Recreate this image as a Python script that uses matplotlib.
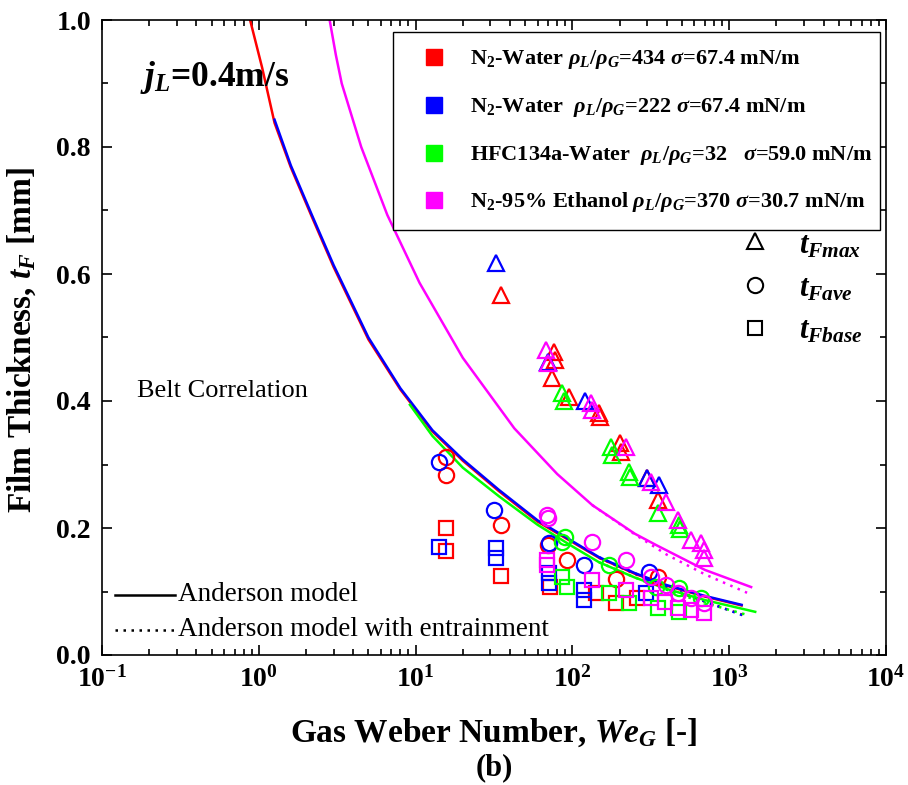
import matplotlib
matplotlib.use('Agg')
import matplotlib.pyplot as plt
from matplotlib.patches import Rectangle
import numpy as np

plt.rcParams['font.family'] = ['Liberation Serif', 'DejaVu Serif']
plt.rcParams['mathtext.fontset'] = 'custom'
plt.rcParams['mathtext.rm'] = 'Liberation Serif:bold'
plt.rcParams['mathtext.it'] = 'Liberation Serif:bold:italic'
plt.rcParams['mathtext.bf'] = 'Liberation Serif:bold'

# Fluid colours / legend labels
colors = ['#ff0000', '#0000ff', '#00ff00', '#ff00ff']
labels = [r'N$_2$-Water $\rho_L/\rho_G$=434 $\sigma$=67.4 mN/m',
          r'N$_2$-Water  $\rho_L/\rho_G$=222 $\sigma$=67.4 mN/m',
          r'HFC134a-Water  $\rho_L/\rho_G$=32   $\sigma$=59.0 mN/m',
          r'N$_2$-95% Ethanol $\rho_L/\rho_G$=370 $\sigma$=30.7 mN/m']

# ---- measured data (WeG, tF [mm]) ----
# N2-Water 434
red_max_we = [35.3, 76.7, 78, 74.6, 95, 148, 150, 200, 205, 300, 350]
red_max_t = [0.567, 0.477, 0.465, 0.436, 0.406, 0.381, 0.375, 0.334, 0.32, 0.279, 0.244]
red_ave_we = [15.7, 15.6, 35.3, 70, 93, 190, 350]
red_ave_t = [0.312, 0.283, 0.205, 0.173, 0.15, 0.12, 0.123]
red_base_we = [15.7, 15.7, 35.3, 72, 142, 190, 260]
red_base_t = [0.2, 0.164, 0.124, 0.107, 0.098, 0.082, 0.09]
# N2-Water 222
blue_max_we = [32.4, 70, 121, 300, 358]
blue_max_t = [0.617, 0.461, 0.40, 0.279, 0.268]
blue_ave_we = [14, 31.8, 71, 119, 309]
blue_ave_t = [0.304, 0.228, 0.176, 0.142, 0.131]
blue_base_we = [14, 32.4, 32.4, 71, 71, 119, 119, 295]
blue_base_t = [0.17, 0.168, 0.153, 0.129, 0.113, 0.102, 0.087, 0.098]
# HFC134a-Water
green_max_we = [86, 88, 175, 178, 231, 233, 350, 478, 485]
green_max_t = [0.413, 0.40, 0.328, 0.315, 0.288, 0.28, 0.224, 0.205, 0.198]
green_ave_we = [86, 90, 172, 343, 478, 664]
green_ave_t = [0.178, 0.186, 0.142, 0.107, 0.105, 0.09]
green_base_we = [86, 92, 172, 231, 350, 478]
green_base_t = [0.123, 0.107, 0.098, 0.082, 0.074, 0.068]
# N2-95% Ethanol
mag_max_we = [68, 69.6, 132, 134, 221, 318, 398, 473, 573, 664, 692, 692]
mag_max_t = [0.48, 0.46, 0.397, 0.386, 0.328, 0.272, 0.241, 0.213, 0.181, 0.176, 0.165, 0.153]
mag_ave_we = [69, 70, 134, 221, 318, 398, 473, 573, 692]
mag_ave_t = [0.22, 0.215, 0.178, 0.15, 0.123, 0.11, 0.098, 0.09, 0.082]
mag_base_we = [69, 69, 134, 221, 318, 390, 473, 573, 692]
mag_base_t = [0.15, 0.142, 0.118, 0.102, 0.09, 0.083, 0.074, 0.071, 0.066]

# ---- Anderson model curves ----
red_fit_we = [0.86, 0.88, 1.05, 1.26, 1.6, 2.18, 3, 5, 8, 12.8, 20, 34, 60, 148, 250, 400, 700, 1200]
red_fit_t = [1.03, 1.0, 0.925, 0.838, 0.768, 0.69, 0.611, 0.497, 0.418, 0.352, 0.306, 0.258,
             0.21, 0.153, 0.128, 0.109, 0.092, 0.078]
blue_fit_we = [1.26, 1.6, 2.18, 3, 5, 8, 12.8, 20, 34, 60, 148, 250, 400, 700, 1200]
blue_fit_t = [0.843, 0.771, 0.693, 0.614, 0.50, 0.42, 0.354, 0.308, 0.26, 0.212, 0.154,
              0.129, 0.11, 0.093, 0.079]
green_fit_we = [9.2, 12.8, 20, 34, 60, 100, 148, 250, 400, 700, 1465]
green_fit_t = [0.394, 0.345, 0.295, 0.25, 0.205, 0.171, 0.146, 0.122, 0.104, 0.0865, 0.068]
mag_fit_we = [2.75, 2.83, 3.1, 3.38, 4.5, 6.6, 10.6, 20, 42.6, 80, 134, 250, 343, 700, 1380]
mag_fit_t = [1.03, 1.0, 0.945, 0.90, 0.8, 0.693, 0.586, 0.468, 0.357, 0.285, 0.236, 0.191,
             0.173, 0.134, 0.107]
# with entrainment (only differs at high WeG)
red_ent_we = [148, 300, 500, 800, 1300]
red_ent_t = [0.153, 0.119, 0.097, 0.079, 0.061]
blue_ent_we = [148, 300, 500, 800, 1300]
blue_ent_t = [0.154, 0.12, 0.098, 0.079, 0.06]
green_ent_we = [148, 300, 500, 800, 1350]
green_ent_t = [0.146, 0.114, 0.094, 0.078, 0.062]
mag_ent_we = [134, 250, 400, 700, 1300]
mag_ent_t = [0.236, 0.19, 0.158, 0.127, 0.098]

xticks = [0.1, 1, 10, 100, 1000, 10000]
xticklabels = [r'$\mathregular{10^{-1}}$', r'$\mathregular{10^{0}}$', r'$\mathregular{10^{1}}$',
               r'$\mathregular{10^{2}}$', r'$\mathregular{10^{3}}$', r'$\mathregular{10^{4}}$']
yticks = [0.0, 0.2, 0.4, 0.6, 0.8, 1.0]

fig = plt.figure(figsize=(9.08, 7.85), dpi=100)
ax = fig.add_axes([102/908, 1-655/785, 784/908, 635/785])

fits = [(red_fit_we, red_fit_t), (blue_fit_we, blue_fit_t),
        (green_fit_we, green_fit_t), (mag_fit_we, mag_fit_t)]
ents = [(red_ent_we, red_ent_t), (blue_ent_we, blue_ent_t),
        (green_ent_we, green_ent_t), (mag_ent_we, mag_ent_t)]
for i in range(4):
    ax.plot(ents[i][0], ents[i][1], color=colors[i], ls=(0, (1, 2.2)), lw=1.8)
    ax.plot(fits[i][0], fits[i][1], color=colors[i], lw=1.8)

data = [
    [(red_max_we, red_max_t), (red_ave_we, red_ave_t), (red_base_we, red_base_t)],
    [(blue_max_we, blue_max_t), (blue_ave_we, blue_ave_t), (blue_base_we, blue_base_t)],
    [(green_max_we, green_max_t), (green_ave_we, green_ave_t), (green_base_we, green_base_t)],
    [(mag_max_we, mag_max_t), (mag_ave_we, mag_ave_t), (mag_base_we, mag_base_t)],
]
mk = ['^', 'o', 's']
ms = [12, 11, 10]
for i in range(4):
    for j in range(3):
        ax.plot(data[i][j][0], data[i][j][1], mk[j], ms=ms[j], mfc='none',
                mec=colors[i], mew=1.6, ls='')

ax.set_xscale('log')
ax.set_xlim(0.1, 10000)
ax.set_ylim(0, 1.0)
ax.set_xticks(xticks)
ax.set_xticklabels(xticklabels)
ax.set_yticks(yticks)
ax.set_yticklabels(['%.1f' % v for v in yticks])
ax.set_yticks(np.arange(0.1, 1.0, 0.2), minor=True)
ax.tick_params(which='both', direction='in', top=True, right=True, width=1.2)
ax.tick_params(which='major', length=7, labelsize=20, pad=8)
ax.tick_params(which='minor', length=4)
ax.tick_params(axis='x', which='minor', labelbottom=False)
for lab in ax.get_xticklabels() + ax.get_yticklabels():
    lab.set_fontweight('bold')
for s in ax.spines.values():
    s.set_linewidth(1.2)

# fluid legend box (drawn by hand to match the original layout)
ax.add_patch(Rectangle((0.371, 0.669), 0.621, 0.312, transform=ax.transAxes,
                       fill=True, fc='white', ec='black', lw=1.0, zorder=5))
leg_y = [0.942, 0.866, 0.791, 0.717]
for i in range(4):
    ax.plot([0.423], [leg_y[i]], 's', color=colors[i], ms=11, transform=ax.transAxes,
            zorder=6, clip_on=False)
    ax.text(0.469, leg_y[i] - 0.011, labels[i], transform=ax.transAxes, fontsize=16,
            fontweight='bold', va='baseline', zorder=6)

# symbol key
ax.plot([0.833], [0.652], '^', ms=12, mfc='none', mec='black', mew=1.5, transform=ax.transAxes)
ax.plot([0.833], [0.583], 'o', ms=11, mfc='none', mec='black', mew=1.5, transform=ax.transAxes)
ax.plot([0.833], [0.515], 's', ms=10, mfc='none', mec='black', mew=1.5, transform=ax.transAxes)
ax.text(0.889, 0.633, r'$t_{Fmax}$', transform=ax.transAxes, fontsize=22, va='baseline')
ax.text(0.889, 0.564, r'$t_{Fave}$', transform=ax.transAxes, fontsize=22, va='baseline')
ax.text(0.889, 0.499, r'$t_{Fbase}$', transform=ax.transAxes, fontsize=22, va='baseline')

# model key
ax.plot([0.017, 0.093], [0.095, 0.095], color='black', lw=1.8, transform=ax.transAxes)
ax.plot([0.017, 0.093], [0.04, 0.04], color='black', lw=1.8, ls=(0, (1, 2.2)), transform=ax.transAxes)
ax.text(0.097, 0.095, 'Anderson model', transform=ax.transAxes, fontsize=19.5, va='center')
ax.text(0.097, 0.04, 'Anderson model with entrainment', transform=ax.transAxes, fontsize=19.5, va='center')

ax.text(0.045, 0.415, 'Belt Correlation', transform=ax.transAxes, fontsize=19, va='center')
ax.text(0.048, 0.91, r'$j_L$=0.4m/s', transform=ax.transAxes, fontsize=25.5,
        fontweight='bold', va='center')

fig.text(494/908, 1-733/785, r'Gas Weber Number, $We_G$ [-]', fontsize=24,
         fontweight='bold', ha='center', va='center')
fig.text(494/908, 1-768/785, '(b)', fontsize=22, fontweight='bold', ha='center', va='center')
fig.text(22/908, 1-340/785, r'Film Thickness, $t_F$ [mm]', fontsize=24, fontweight='bold',
         rotation=90, ha='center', va='center', color='black')

fig.savefig('out.png', dpi=100)
